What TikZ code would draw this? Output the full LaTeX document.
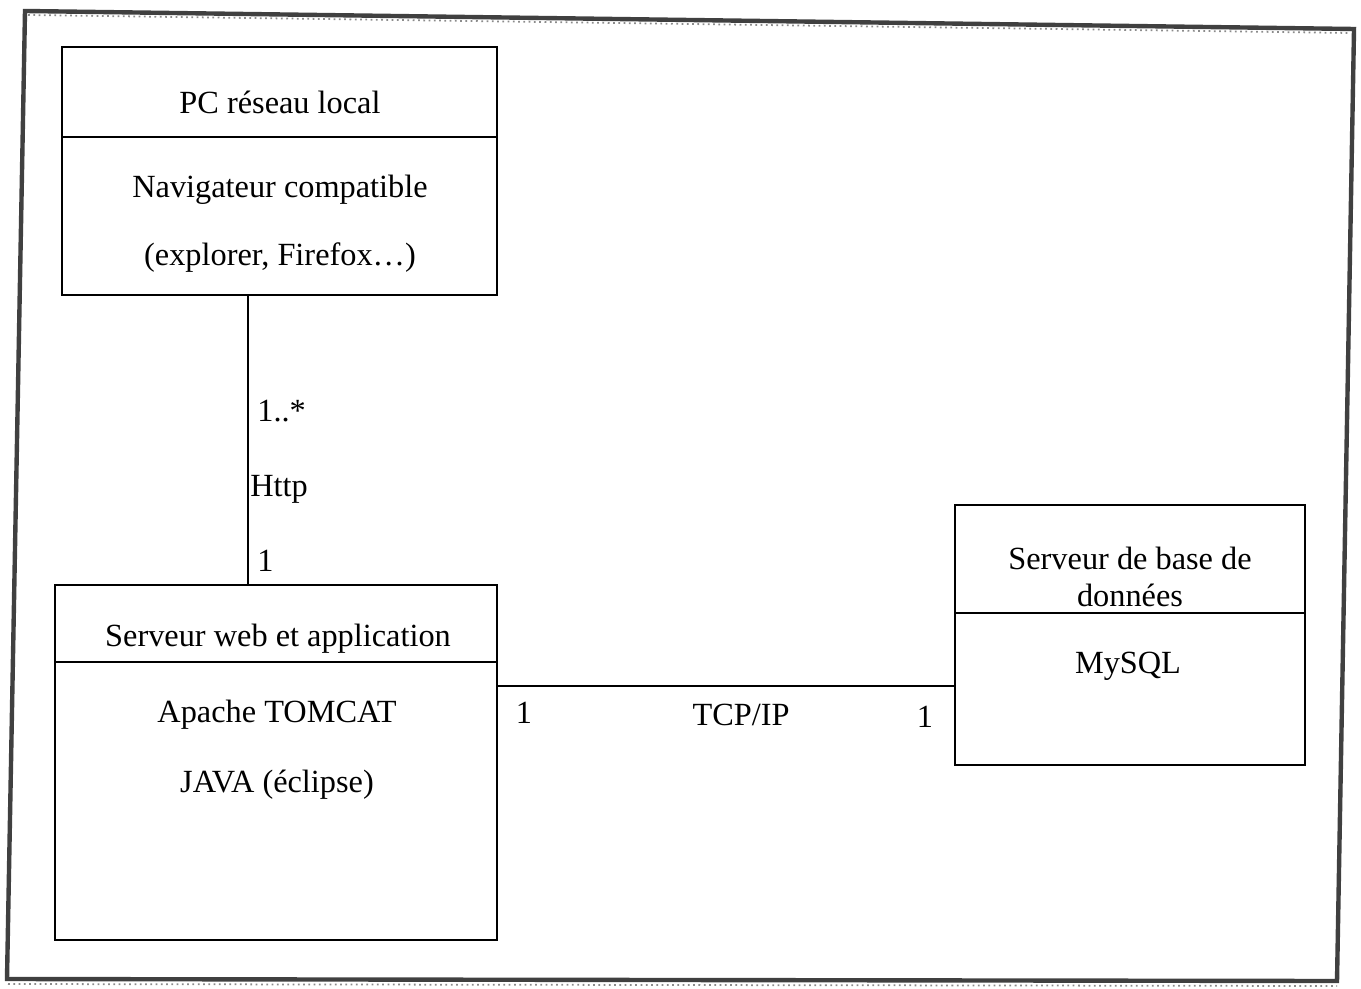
\documentclass[tikz,border=0pt]{standalone}
\usepackage{fontspec}
\setmainfont{Liberation Serif}
\usetikzlibrary{calc}
\begin{document}
\begin{tikzpicture}[
    x=0.02cm, y=-0.02cm,
    every node/.style={font=\fontsize{18.4}{21}\selectfont, align=center, inner sep=0pt},
    noeud/.style={draw, line width=0.8pt, inner sep=0pt},
    lien/.style={line width=0.8pt},
    mult/.style={font=\fontsize{18.4}{21}\selectfont}
]
  \useasboundingbox (0,0) rectangle (1361,989);
  % Cadre de la page scannee
  \draw[line width=2.5pt, color=black!75, line join=miter] (25,11) -- (1354,29) -- (1337,981) -- (7,979) -- cycle;
  \draw[line width=1pt, dotted, color=black!45] (28,15) -- (1350,33);
  \draw[line width=1pt, dotted, color=black!45] (8,984) -- (1337,986);

  % PC reseau local
  \node[noeud, minimum width=8.7cm, minimum height=4.96cm] (pc) at (279.5,171) {};
  \draw[lien] (pc.west |- 0,137) -- (pc.east |- 0,137);
  \node (pctitre) at (280,102) {PC réseau local};
  \node (nav) at (280,190) {Navigateur compatible};
  \node (navex) at (280,258) {(explorer, Firefox…)};

  % Serveur web et application
  \node[noeud, minimum width=8.84cm, minimum height=7.1cm] (web) at (276,762.5) {};
  \draw[lien] (web.west |- 0,662) -- (web.east |- 0,662);
  \node (webtitre) at (278,639) {Serveur web et application};
  \node (tomcat) at (277,715) {Apache TOMCAT};
  \node (java) at (277,785) {JAVA (éclipse)};

  % Serveur de base de donnees
  \node[noeud, minimum width=7cm, minimum height=5.2cm] (db) at (1130,635) {};
  \draw[lien] (db.west |- 0,613) -- (db.east |- 0,613);
  \node (dbtitre) at (1130,577) {Serveur de base de\\données};
  \node (mysql) at (1128,666) {MySQL};

  % Liaison Http
  \coordinate (http) at (248,0);
  \draw[lien] (pc.south -| http) -- (web.north -| http);
  \node[mult, anchor=west] (m1) at (257,411) {1..*};
  \node[mult, anchor=west] (proto1) at (250,489) {Http};
  \node[mult, anchor=west] (m2) at (257,561) {1};

  % Liaison TCP/IP
  \coordinate (tcp) at (0,686);
  \draw[lien] (web.east |- tcp) -- (db.west |- tcp);
  \node[mult] (m3) at (524,713) {1};
  \node[mult] (proto2) at (741,715) {TCP/IP};
  \node[mult] (m4) at (925,717) {1};
\end{tikzpicture}
\end{document}
